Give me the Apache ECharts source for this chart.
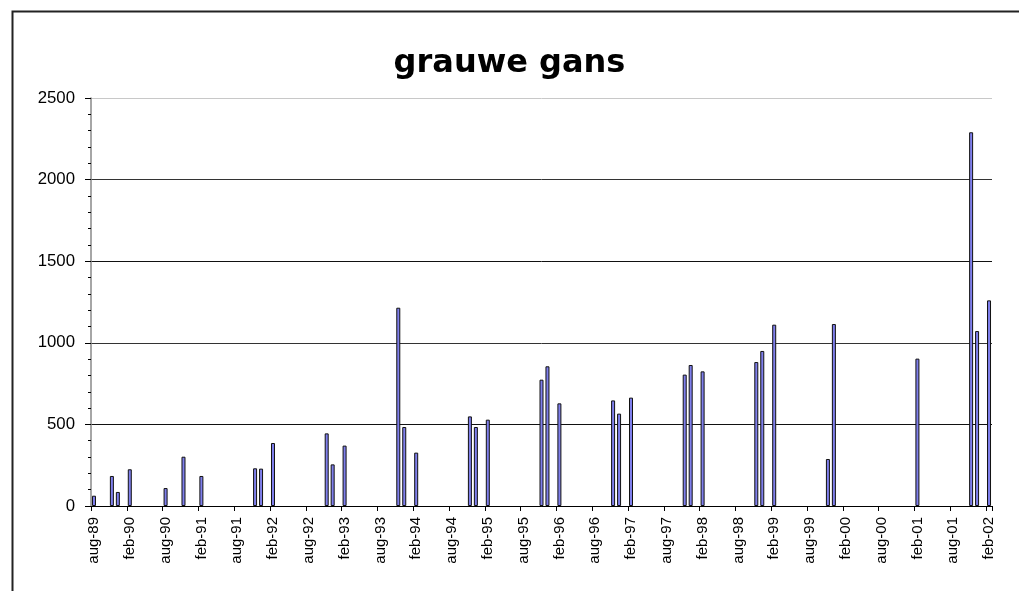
<!DOCTYPE html>
<html><head><meta charset="utf-8">
<script src="https://cdn.jsdelivr.net/npm/echarts@6/dist/echarts.min.js"></script>
<style>html,body{margin:0;padding:0;background:#fff}#c{width:1019px;height:591px}</style>
</head><body><div id="c"></div>
<script>
const titleText = 'grauwe gans';
const monthNames = ['jan','feb','mrt','apr','mei','jun','jul','aug','sep','okt','nov','dec'];
const startYear = 1989, startMonth = 7, monthCount = 151; // aug-89 .. feb-02
const yTicks = [0, 500, 1000, 1500, 2000, 2500];
// observed counts per month (label -> value)
const obsMonths = ['aug-89','nov-89','dec-89','feb-90','aug-90','nov-90','feb-91','nov-91','dec-91','feb-92',
  'nov-92','dec-92','feb-93','nov-93','dec-93','feb-94','nov-94','dec-94','feb-95','nov-95','dec-95','feb-96',
  'nov-96','dec-96','feb-97','nov-97','dec-97','feb-98','nov-98','dec-98','feb-99','nov-99','dec-99','feb-01',
  'nov-01','dec-01','feb-02'];
const obsValues = [63,184,86,225,110,302,184,231,229,386,
  445,255,370,1215,484,327,549,484,529,774,856,629,
  647,566,664,805,864,825,882,950,1111,288,1115,903,
  2290,1072,1260];

const categories = [];
for (let i = 0; i < monthCount; i++) {
  const m = (startMonth + i) % 12;
  const y = startYear + Math.floor((startMonth + i) / 12);
  categories.push(monthNames[m] + '-' + String(y % 100).padStart(2, '0'));
}
const values = categories.map(c => {
  const k = obsMonths.indexOf(c);
  return k >= 0 ? obsValues[k] : null;
});

const FONT = 'Liberation Sans, Arial, sans-serif';
const chart = echarts.init(document.getElementById('c'));
chart.setOption({
  animation: false,
  backgroundColor: '#fff',
  textStyle: { fontFamily: FONT },
  title: {
    text: titleText, left: 'center', top: 43,
    textStyle: { fontSize: 32, fontWeight: 'bold', color: '#000', fontFamily: 'DejaVu Sans, sans-serif' }
  },
  graphic: [{
    type: 'rect', left: 10, top: 9, shape: { x: 0, y: 0, width: 1100, height: 700 },
    style: { fill: 'none', stroke: '#222', lineWidth: 2 }, silent: true, z: -1
  }],
  grid: { left: 91, right: 27, top: 98, bottom: 85 },
  xAxis: {
    type: 'category', data: categories, boundaryGap: true,
    axisLine: { lineStyle: { color: '#000', width: 1 } },
    axisTick: { show: true, interval: (i) => i % 6 === 0, alignWithLabel: false, length: 5, lineStyle: { color: '#000' } },
    axisLabel: { interval: (i) => i % 6 === 0, rotate: 90, fontSize: 15, color: '#000', margin: 11, fontFamily: FONT },
    splitLine: { show: false }
  },
  yAxis: {
    type: 'value', min: yTicks[0], max: yTicks[yTicks.length - 1], interval: 500,
    axisLine: { show: true, lineStyle: { color: '#888', width: 1.5 } },
    axisTick: { show: true, length: 6, lineStyle: { color: '#000' } },
    minorTick: { show: true, splitNumber: 5, length: 3, lineStyle: { color: '#000' } },
    axisLabel: { fontSize: 16.8, color: '#000', margin: 16, fontFamily: FONT, formatter: (v) => String(v) },
    splitLine: { show: true, lineStyle: { color: ['#000', '#111', '#333', '#111', '#333', '#c8c8c8'], width: 1 } }
  },
  series: [{
    type: 'bar', data: values, barWidth: 4,
    itemStyle: { color: '#7f7fec', borderColor: '#111', borderWidth: 1 }
  }]
});
</script></body></html>
